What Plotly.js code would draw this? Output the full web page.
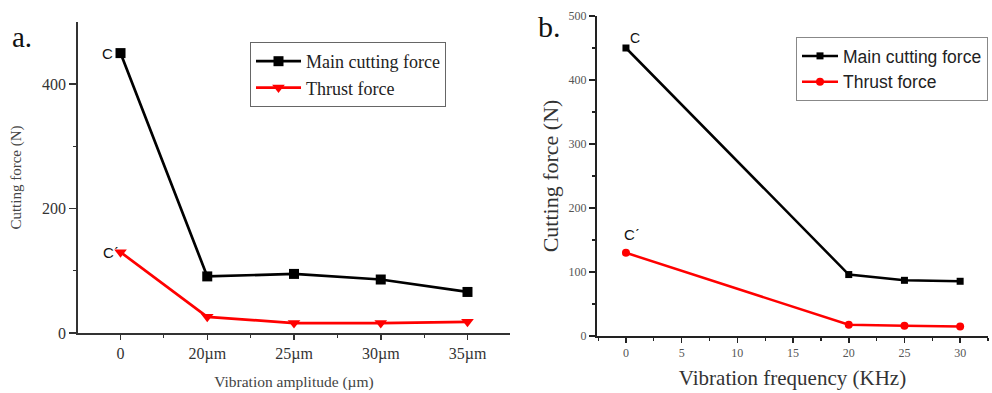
<!DOCTYPE html>
<html>
<head>
<meta charset="utf-8">
<script src="https://cdn.plot.ly/plotly-3.0.1.min.js"></script>
<style>html,body{margin:0;padding:0;background:#fff;}#chart{width:992px;height:393px;}</style>
</head>
<body>
<div id="chart"></div>
<script>
// Panel a: vibration amplitude
var ampCategories = ["0", "20\u00b5m", "25\u00b5m", "30\u00b5m", "35\u00b5m"];
var ampMain = [450, 91, 95, 86, 66];
var ampThrust = [130, 26, 16, 16, 18];

// Panel b: vibration frequency (KHz)
var freqValues = [0, 20, 25, 30];
var freqMain = [450, 96, 87, 85.5];
var freqThrust = [130, 17.5, 16, 15];

var seriesNames = ["Main cutting force", "Thrust force"];

var ampIdx = ampCategories.map(function (c, i) { return i; });
var ampMinor = ampIdx.slice(0, -1).map(function (i) { return i + 0.5; }).concat([ampIdx.length - 0.5]);

var serif = "Liberation Serif, Times New Roman, serif";
var sans = "Liberation Sans, Arial, sans-serif";

var traces = [
  {x: ampIdx, y: ampMain, name: seriesNames[0], type: "scatter", mode: "lines+markers",
   xaxis: "x", yaxis: "y", legend: "legend",
   line: {color: "#000000", width: 2.7}, marker: {symbol: "square", size: 10, color: "#000000"}},
  {x: ampIdx, y: ampThrust, name: seriesNames[1], type: "scatter", mode: "lines+markers",
   xaxis: "x", yaxis: "y", legend: "legend",
   line: {color: "#ff0000", width: 2.7}, marker: {symbol: "triangle-down", size: 11, color: "#ff0000"}},
  {x: freqValues, y: freqMain, name: seriesNames[0], type: "scatter", mode: "lines+markers",
   xaxis: "x2", yaxis: "y2", legend: "legend2",
   line: {color: "#000000", width: 2.5}, marker: {symbol: "square", size: 7, color: "#000000"}},
  {x: freqValues, y: freqThrust, name: seriesNames[1], type: "scatter", mode: "lines+markers",
   xaxis: "x2", yaxis: "y2", legend: "legend2",
   line: {color: "#ff0000", width: 2.5}, marker: {symbol: "circle", size: 8, color: "#ff0000"}}
];

var layout = {
  width: 992, height: 393,
  margin: {l: 0, r: 0, t: 0, b: 0},
  paper_bgcolor: "#ffffff", plot_bgcolor: "#ffffff",
  showlegend: true,
  xaxis: {
    domain: [78 / 992, 510 / 992], range: [-0.49, 4.49],
    tickmode: "array", tickvals: ampIdx, ticktext: ampCategories,
    ticks: "outside", ticklen: 5, tickwidth: 1.5, tickcolor: "#333",
    showline: true, linecolor: "#333", linewidth: 1.8, showgrid: false, zeroline: false,
    tickfont: {family: serif, size: 16, color: "#333"},
    minor: {tickmode: "array", tickvals: ampMinor, ticks: "outside", ticklen: 3, tickwidth: 1.2, tickcolor: "#333", showgrid: false},
    title: {text: "Vibration amplitude (\u00b5m)", font: {family: serif, size: 15.5, color: "#444"}, standoff: 14},
    anchor: "y"
  },
  yaxis: {
    domain: [60 / 393, 371 / 393], range: [0, 500],
    tickmode: "array", tickvals: [0, 200, 400],
    ticks: "outside", ticklen: 7, tickwidth: 1.5, tickcolor: "#333",
    showline: true, linecolor: "#333", linewidth: 1.8, showgrid: false, zeroline: false,
    tickfont: {family: serif, size: 16, color: "#333"},
    minor: {tickmode: "array", tickvals: [100, 300], ticks: "outside", ticklen: 3, tickwidth: 1.2, tickcolor: "#333", showgrid: false},
    title: {text: "Cutting force (N)", font: {family: serif, size: 15, color: "#444"}, standoff: 17},
    anchor: "x"
  },
  xaxis2: {
    domain: [597 / 992, 988 / 992], range: [-2.6, 32.5],
    tickmode: "linear", tick0: 0, dtick: 5,
    ticks: "outside", ticklen: 5, tickwidth: 1.5, tickcolor: "#222",
    showline: true, linecolor: "#222", linewidth: 2, showgrid: false, zeroline: false,
    tickfont: {family: serif, size: 12, color: "#555"},
    minor: {tickmode: "linear", tick0: 2.5, dtick: 5, ticks: "outside", ticklen: 3, tickwidth: 1.2, tickcolor: "#222", showgrid: false},
    title: {text: "Vibration frequency (KHz)", font: {family: serif, size: 21, color: "#333"}, standoff: 11},
    anchor: "y2"
  },
  yaxis2: {
    domain: [57 / 393, 377 / 393], range: [0, 500],
    tickmode: "linear", tick0: 0, dtick: 100,
    ticks: "outside", ticklen: 6, tickwidth: 1.5, tickcolor: "#222",
    showline: true, linecolor: "#222", linewidth: 2, showgrid: false, zeroline: false,
    tickfont: {family: serif, size: 12, color: "#555"},
    minor: {tickmode: "linear", tick0: 50, dtick: 100, ticks: "outside", ticklen: 3, tickwidth: 1.2, tickcolor: "#222", showgrid: false},
    title: {text: "Cutting force (N)", font: {family: serif, size: 22, color: "#333"}, standoff: 4},
    anchor: "x2"
  },
  legend: {
    x: 250 / 992, y: 1 - 42 / 393, xanchor: "left", yanchor: "top",
    bgcolor: "#ffffff", bordercolor: "#666", borderwidth: 1,
    font: {family: serif, size: 18, color: "#222"},
    tracegroupgap: 0, itemwidth: 45
  },
  legend2: {
    x: 796 / 992, y: 1 - 37 / 393, xanchor: "left", yanchor: "top",
    bgcolor: "#ffffff", bordercolor: "#888", borderwidth: 1,
    font: {family: sans, size: 17.5, color: "#222"},
    tracegroupgap: 0, itemwidth: 36
  },
  annotations: [
    {text: "a.", xref: "paper", yref: "paper", x: 10 / 992, y: 1 - 37 / 393, xanchor: "left", yanchor: "middle",
     showarrow: false, font: {family: serif, size: 29, color: "#111"}},
    {text: "b.", xref: "paper", yref: "paper", x: 536 / 992, y: 1 - 26 / 393, xanchor: "left", yanchor: "middle",
     showarrow: false, font: {family: serif, size: 30, color: "#111"}},
    {text: "C", xref: "x", yref: "y", x: ampIdx[0], y: ampMain[0], xanchor: "right", yanchor: "middle", xshift: -6,
     showarrow: false, font: {family: sans, size: 15, color: "#111"}},
    {text: "C\u02ca", xref: "x", yref: "y", x: ampIdx[0], y: ampThrust[0], xanchor: "right", yanchor: "middle", xshift: 0,
     showarrow: false, font: {family: sans, size: 15, color: "#111"}},
    {text: "C", xref: "x2", yref: "y2", x: freqValues[0], y: freqMain[0], xanchor: "left", yanchor: "bottom", xshift: 2, yshift: 0,
     showarrow: false, font: {family: sans, size: 14, color: "#111"}},
    {text: "C\u02ca", xref: "x2", yref: "y2", x: freqValues[0], y: freqThrust[0], xanchor: "left", yanchor: "bottom", xshift: -4, yshift: 8,
     showarrow: false, font: {family: sans, size: 15, color: "#111"}}
  ]
};

Plotly.newPlot("chart", traces, layout, {displayModeBar: false, staticPlot: true});
</script>
</body>
</html>
